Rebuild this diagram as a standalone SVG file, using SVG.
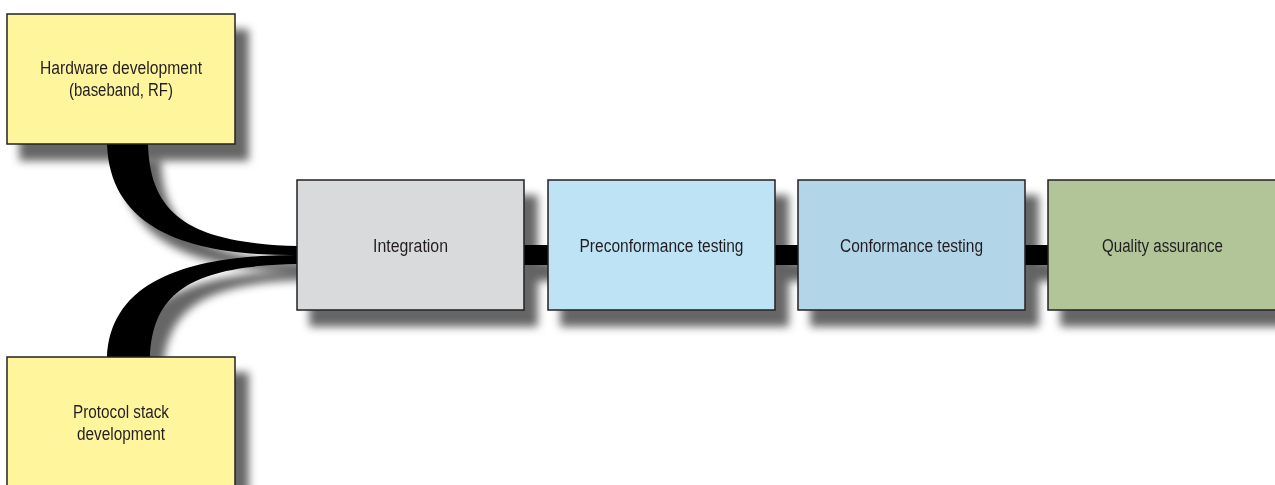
<svg xmlns="http://www.w3.org/2000/svg" width="1275" height="485" viewBox="0 0 1275 485">
<style>
.box{stroke:#231f20;stroke-width:1.5}
.lbl{font-family:"Liberation Sans",Arial,sans-serif;font-size:18px;fill:#231f20;text-anchor:middle}
.conn{fill:#000}
</style>
<defs>
<filter id="sh" x="-20%" y="-20%" width="150%" height="160%">
<feDropShadow dx="13" dy="16" stdDeviation="4.5" flood-color="#000" flood-opacity="0.6"/>
</filter>
</defs>
<rect width="1275" height="485" fill="#fff"/>
<g id="connectors" filter="url(#sh)">
<path class="conn" d="M107,144 L148,144 C150,215 190,243 297,246 L297,255 C200,256 110,235 107,144 Z"/>
<path class="conn" d="M107,358 L150,358 C152,290 195,266 297,264 L297,255 C200,255 110,275 107,358 Z"/>
<rect class="conn" x="522" y="245" width="28" height="20"/>
<rect class="conn" x="773" y="245" width="27" height="20"/>
<rect class="conn" x="1023" y="245" width="27" height="20"/>
</g>
<g id="hardware" filter="url(#sh)">
<rect class="box" x="7" y="14" width="228" height="130" fill="#fff59d"/>
<text class="lbl" x="121" y="74" textLength="162" lengthAdjust="spacingAndGlyphs">Hardware development</text>
<text class="lbl" x="121" y="96" textLength="104" lengthAdjust="spacingAndGlyphs">(baseband, RF)</text>
</g>
<g id="protocol" filter="url(#sh)">
<rect class="box" x="7" y="357" width="228" height="140" fill="#fff59d"/>
<text class="lbl" x="121" y="418" textLength="96" lengthAdjust="spacingAndGlyphs">Protocol stack</text>
<text class="lbl" x="121" y="440" textLength="88" lengthAdjust="spacingAndGlyphs">development</text>
</g>
<g id="integration" filter="url(#sh)">
<rect class="box" x="297" y="180" width="227" height="130" fill="#d9dadc"/>
<text class="lbl" x="410.5" y="252" textLength="75" lengthAdjust="spacingAndGlyphs">Integration</text>
</g>
<g id="preconformance" filter="url(#sh)">
<rect class="box" x="548" y="180" width="227" height="130" fill="#bde3f5"/>
<text class="lbl" x="661.5" y="252" textLength="164" lengthAdjust="spacingAndGlyphs">Preconformance testing</text>
</g>
<g id="conformance" filter="url(#sh)">
<rect class="box" x="798" y="180" width="227" height="130" fill="#b3d5e8"/>
<text class="lbl" x="911.5" y="252" textLength="143" lengthAdjust="spacingAndGlyphs">Conformance testing</text>
</g>
<g id="quality" filter="url(#sh)">
<rect class="box" x="1048" y="180" width="229" height="130" fill="#b1c598"/>
<text class="lbl" x="1162.5" y="252" textLength="121" lengthAdjust="spacingAndGlyphs">Quality assurance</text>
</g>
</svg>
